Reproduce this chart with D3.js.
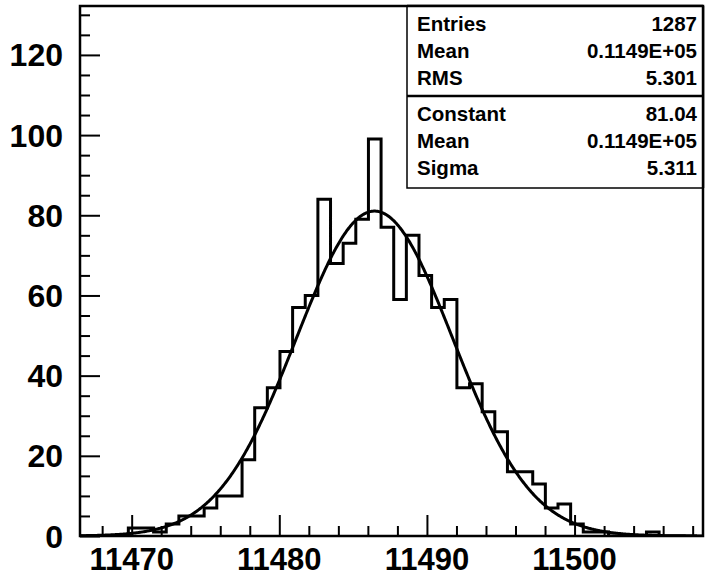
<!DOCTYPE html>
<html>
<head>
<meta charset="utf-8">
<script src="https://cdn.jsdelivr.net/npm/d3@7"></script>
<style>
  html, body { margin: 0; padding: 0; background: #fff; }
  svg { display: block; }
</style>
</head>
<body>
<svg id="chart" width="706" height="579"></svg>
<script>
// ---- data ----
const binStart = 11466.35;
const binWidth = 0.856;
const counts = [0, 0, 0, 0, 2, 2, 1, 3, 5, 5,
                7, 10, 10, 19, 32, 37, 46, 57, 60, 84,
                68, 73, 79, 99, 77, 59, 75, 65, 57, 59,
                37, 38, 31, 26, 16, 16, 13, 7, 8, 3,
                1, 1, 0, 0, 0, 1, 0, 0, 0];
const fitConstant = 81.04;
const fitMean = 11486.45;
const fitSigma = 5.311;
const xMajorTicks = [11470, 11480, 11490, 11500];
const yMajorTicks = [0, 20, 40, 60, 80, 100, 120];
const statsLabels1 = ["Entries", "Mean", "RMS"];
const statsValues1 = ["1287", "0.1149E+05", "5.301"];
const statsLabels2 = ["Constant", "Mean", "Sigma"];
const statsValues2 = ["81.04", "0.1149E+05", "5.311"];

// ---- layout ----
const L = 80, R = 703, T = 6, B = 536;
const svg = d3.select("#chart");
const x = d3.scaleLinear().domain([11466.5, 11508.7]).range([L, R]);
const y = d3.scaleLinear().domain([0, 132.2]).range([B, T]);
const font = "'Liberation Sans', Arial, Helvetica, sans-serif";

svg.append("defs").append("clipPath").attr("id", "clip")
  .append("rect").attr("x", L).attr("y", T).attr("width", R - L).attr("height", B - T);

// ---- histogram outline ----
const pts = [[binStart, 0]];
counts.forEach((c, k) => {
  const e0 = binStart + k * binWidth, e1 = e0 + binWidth;
  pts.push([e0, c]); pts.push([e1, c]);
});
pts.push([binStart + counts.length * binWidth, 0]);
const line = d3.line().x(d => x(d[0])).y(d => y(d[1]));
svg.append("path").attr("clip-path", "url(#clip)")
  .attr("d", line(pts)).attr("fill", "none").attr("stroke", "#000")
  .attr("stroke-width", 3).attr("stroke-linejoin", "miter");

// ---- gaussian fit ----
const fitPts = d3.range(11466.5, 11508.7, 0.05).map(v =>
  [v, fitConstant * Math.exp(-0.5 * Math.pow((v - fitMean) / fitSigma, 2))]);
svg.append("path").attr("clip-path", "url(#clip)")
  .attr("d", d3.line().x(d => x(d[0])).y(d => y(d[1])).curve(d3.curveLinear)(fitPts))
  .attr("fill", "none").attr("stroke", "#000").attr("stroke-width", 3);

// ---- axes (ROOT style: ticks inside) ----
const xAxis = d3.axisTop(x).tickValues(d3.range(11468, 11509, 2)).tickSize(10).tickFormat("");
const gx = svg.append("g").attr("transform", `translate(0,${B})`).call(xAxis);
gx.select(".domain").remove();
gx.selectAll(".tick line").attr("stroke", "#000").attr("stroke-width", 2)
  .attr("y2", d => xMajorTicks.includes(d) ? -21 : -10);
xMajorTicks.forEach(v => {
  svg.append("text").attr("x", x(v)).attr("y", 570).attr("text-anchor", "middle")
    .attr("font-family", font).attr("font-weight", "bold").attr("font-size", 31)
    .text(v);
});

const yAxis = d3.axisRight(y).tickValues(d3.range(0, 133, 5)).tickSize(10).tickFormat("");
const gy = svg.append("g").attr("transform", `translate(${L},0)`).call(yAxis);
gy.select(".domain").remove();
gy.selectAll(".tick line").attr("stroke", "#000").attr("stroke-width", 2)
  .attr("x2", d => yMajorTicks.includes(d) ? 20 : 10);
yMajorTicks.forEach(v => {
  svg.append("text").attr("x", 63).attr("y", y(v)).attr("dy", "0.36em")
    .attr("text-anchor", "end")
    .attr("font-family", font).attr("font-weight", "bold").attr("font-size", 32)
    .text(v);
});

// frame
svg.append("rect").attr("x", L).attr("y", T).attr("width", R - L).attr("height", B - T)
  .attr("fill", "none").attr("stroke", "#000").attr("stroke-width", 2.5);

// ---- stats box ----
const bx0 = 407, bx1 = R, by0 = T, by1 = 188, divY = 96;
svg.append("rect").attr("x", bx0).attr("y", by0).attr("width", bx1 - bx0).attr("height", by1 - by0)
  .attr("fill", "#fff").attr("stroke", "#000").attr("stroke-width", 1.5);
svg.append("line").attr("x1", bx0).attr("x2", bx1).attr("y1", divY).attr("y2", divY)
  .attr("stroke", "#000").attr("stroke-width", 2.5);
svg.append("line").attr("x1", bx0).attr("x2", R).attr("y1", T).attr("y2", T)
  .attr("stroke", "#000").attr("stroke-width", 2.5);
svg.append("line").attr("x1", R).attr("x2", R).attr("y1", T).attr("y2", by1)
  .attr("stroke", "#000").attr("stroke-width", 2.5);

const rowY1 = [24, 51, 78], rowY2 = [114, 141, 168];
function statRows(labels, values, ys) {
  labels.forEach((lab, i) => {
    svg.append("text").attr("x", 417).attr("y", ys[i]).attr("dy", "0.36em")
      .attr("font-family", font).attr("font-weight", "bold").attr("font-size", 20.5).text(lab);
    svg.append("text").attr("x", 697).attr("y", ys[i]).attr("dy", "0.36em").attr("text-anchor", "end")
      .attr("font-family", font).attr("font-weight", "bold").attr("font-size", 20.5).text(values[i]);
  });
}
statRows(statsLabels1, statsValues1, rowY1);
statRows(statsLabels2, statsValues2, rowY2);
</script>
</body>
</html>
